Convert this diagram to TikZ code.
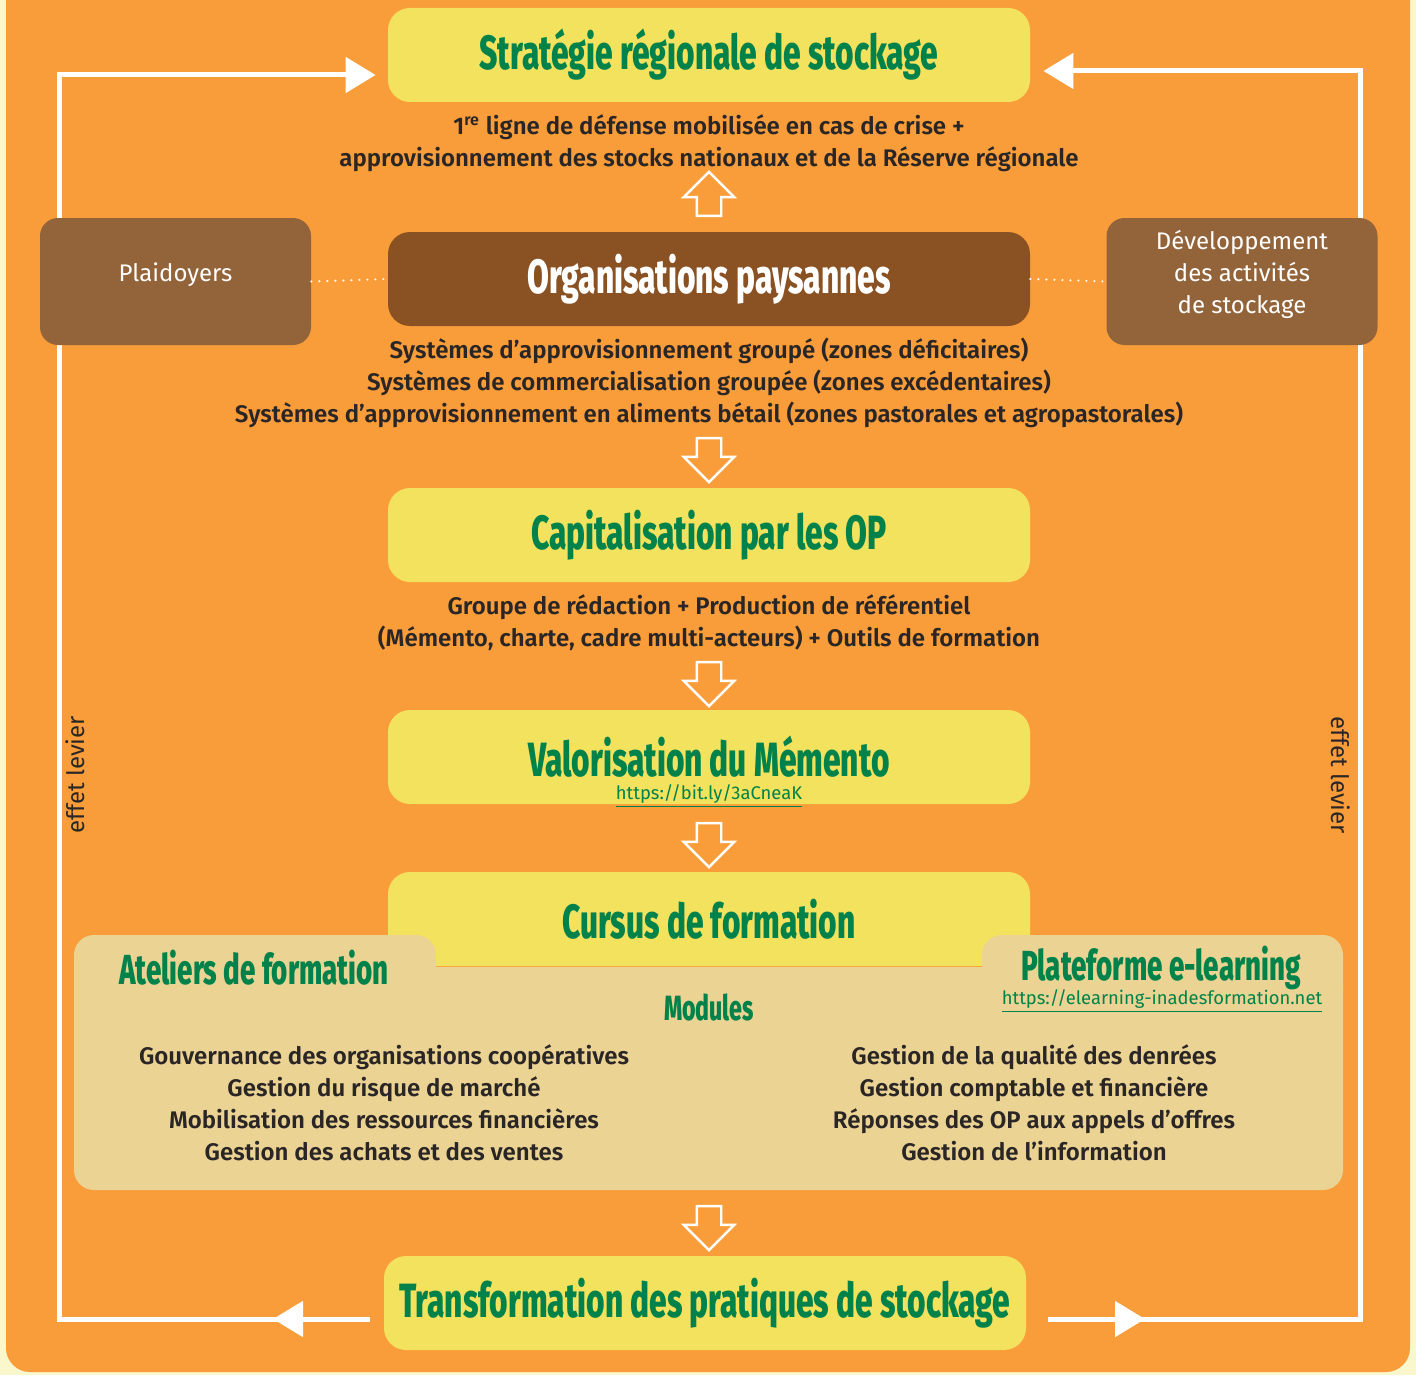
\documentclass[tikz,border=0pt]{standalone}
\usepackage{fontspec}
\setmainfont{Fira Sans}[BoldFont={Fira Sans SemiBold}]
\newfontfamily\titlefont{Fira Sans}[BoldFont={Fira Sans ExtraBold}, FakeStretch=0.66]
\usetikzlibrary{shapes.arrows,arrows.meta,positioning}

\definecolor{cream}{HTML}{FBF7CD}
\definecolor{bgorange}{HTML}{F99D3A}
\definecolor{boxyellow}{HTML}{F3E25E}
\definecolor{boxbeige}{HTML}{EBD393}
\definecolor{opbrown}{HTML}{8A5223}
\definecolor{sidebrown}{HTML}{93643A}
\definecolor{titlegreen}{HTML}{00824A}
\definecolor{bodytext}{HTML}{2B2626}

\tikzset{
  ybox/.style={rectangle, rounded corners=11pt, fill=boxyellow, minimum width=321pt, minimum height=47pt, text=titlegreen, font=\titlefont\bfseries\fontsize{24}{28}\selectfont},
  sidebox/.style={rectangle, rounded corners=9pt, fill=sidebrown, minimum width=135.5pt, minimum height=63.5pt},
  sidetxt/.style={text=white, align=center, font=\fontsize{12}{16}\selectfont},
  bodytxt/.style={align=center, text=bodytext, font=\bfseries\fontsize{12}{16}\selectfont},
  subhead/.style={text=titlegreen, font=\titlefont\bfseries\fontsize{21}{24}\selectfont},
  linktxt/.style={text=titlegreen, inner sep=0.5pt, font=\fontsize{9.2}{11}\selectfont},
  hollowarrow/.style={single arrow, draw=white, line width=1.2pt, inner sep=5.5pt, minimum height=22pt, single arrow head extend=6.5pt},
  loopline/.style={draw=white, line width=2.5pt},
  looptip/.style={-{Triangle[length=15pt,width=17.5pt]}},
  dotline/.style={draw=white, line width=1.2pt, line cap=round, dash pattern=on 0pt off 4pt}
}

\begin{document}
\begin{tikzpicture}[x=0.5pt, y=-0.5pt]
\useasboundingbox (0,0) rectangle (1416,1375);
\fill[cream] (0,0) rectangle (1416,1375);
\fill[bgorange, rounded corners=12pt] (6,-40) rectangle (1410,1372);

\node[ybox] (strat) at (709,55) {Stratégie régionale de stockage};
\node[bodytxt] (strattxt) at (709,143) {1\textsuperscript{re} ligne de défense mobilisée en cas de crise +\\approvisionnement des stocks nationaux et de la Réserve régionale};
\node[hollowarrow, shape border rotate=90] (up1) at (709,200) {};

\node[ybox, fill=opbrown, text=white] (op) at (709,279) {Organisations paysannes};
\node[bodytxt] (optxt) at (709,383) {Systèmes d’approvisionnement groupé (zones déficitaires)\\Systèmes de commercialisation groupée (zones excédentaires)\\Systèmes d’approvisionnement en aliments bétail (zones pastorales et agropastorales)};
\node[hollowarrow, shape border rotate=270] (down1) at (709,454) {};

\node[ybox] (capit) at (709,535) {Capitalisation par les OP};
\node[bodytxt] (capittxt) at (709,623) {Groupe de rédaction + Production de référentiel\\(Mémento, charte, cadre multi-acteurs) + Outils de formation};
\node[hollowarrow, shape border rotate=270] (down2) at (709,678) {};

\node[ybox] (valo) at (709,757) {Valorisation du Mémento};
\node[linktxt] (valolink) at (709,796) {\underline{https://bit.ly/3aCneaK}};
\node[hollowarrow, shape border rotate=270] (down3) at (709,839) {};

\node[ybox] (cursus) at (709,919) {Cursus de formation};
\fill[boxbeige, rounded corners=10pt] (74,935) rectangle (436,1010);
\fill[boxbeige, rounded corners=10pt] (982,935) rectangle (1343,1010);
\fill[boxbeige, rounded corners=10pt] (74,967) rectangle (1343,1190);
\node[subhead] (ateliers) at (254,968) {Ateliers de formation};
\node[subhead] (plateforme) at (1161,968) {Plateforme e-learning};
\node[linktxt] (platlink) at (1162,1001) {\underline{https://elearning-inadesformation.net}};
\node[subhead, font=\titlefont\bfseries\fontsize{17.5}{20}\selectfont] (modules) at (709,1007) {Modules};
\node[bodytxt] (modleft) at (384,1103) {Gouvernance des organisations coopératives\\Gestion du risque de marché\\Mobilisation des ressources financières\\Gestion des achats et des ventes};
\node[bodytxt] (modright) at (1034,1103) {Gestion de la qualité des denrées\\Gestion comptable et financière\\Réponses des OP aux appels d’offres\\Gestion de l’information};
\node[hollowarrow, shape border rotate=270] (down4) at (709,1222) {};

\node[ybox] (trans) at (705,1303) {Transformation des pratiques de stockage};

\coordinate (lstart) at ([xshift=-7pt,yshift=-8pt]trans.west);
\coordinate (lmid) at (273,1319);
\coordinate (lcorner) at (59,1319);
\coordinate (rstart) at ([xshift=11pt,yshift=-8pt]trans.east);
\coordinate (rmid) at (1145,1319);
\coordinate (rcorner) at (1360,1319);
\draw[loopline, looptip, shorten >=6pt] (lstart) -- (lcorner) |- ([yshift=-10pt]strat.west);
\draw[loopline, looptip] (lstart) -- (lmid);
\draw[loopline, looptip, shorten >=6.5pt] (rstart) -- (rcorner) |- ([yshift=-8pt]strat.east);
\draw[loopline, looptip] (rstart) -- (rmid);

\node[sidebox] (plaid) at (175.5,281.5) {};
\node[sidebox] (dev) at (1242,281.5) {};
\node[sidetxt] (plaidtxt) at ([yshift=3.5pt]plaid) {Plaidoyers};
\node[sidetxt] (devtxt) at ([yshift=3.5pt]dev) {Développement\\des activités\\de stockage};
\draw[dotline] (plaid.east) -- (op.west);
\draw[dotline] (op.east) -- (dev.west);

\node[text=bodytext, rotate=90, font=\fontsize{12}{14}\selectfont] (levierl) at (75,775) {effet levier};
\node[text=bodytext, rotate=-90, font=\fontsize{12}{14}\selectfont] (levierr) at (1341,775) {effet levier};
\end{tikzpicture}
\end{document}
